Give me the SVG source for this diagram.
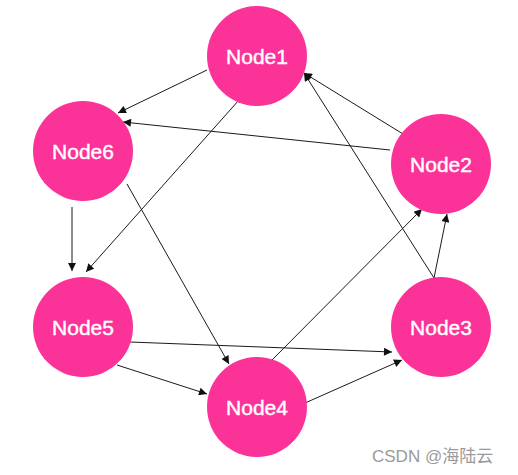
<svg xmlns="http://www.w3.org/2000/svg" width="518" height="475" viewBox="0 0 518 475">
<style>
.node circle{fill:#FB3399;}
.node text{fill:#fff;stroke:#fff;stroke-width:0.4;font-family:"Liberation Sans",Arial,sans-serif;font-size:21px;text-anchor:middle;}
.edges line{stroke:#1a1a1a;stroke-width:1;marker-end:url(#arr);}
.wm{fill:#9a9a9a;font-family:"Liberation Sans","Noto Sans CJK SC",sans-serif;font-size:17px;}
</style>
<defs>
<marker id="arr" viewBox="0 0 10 10" refX="10" refY="5" markerWidth="9" markerHeight="8" markerUnits="userSpaceOnUse" orient="auto">
<path d="M0,0 L10,5 L0,10 Z" fill="#111"/>
</marker>
</defs>
<rect width="518" height="475" fill="#fff"/>
<g class="edges">
<line x1="207" y1="70" x2="118" y2="113"/>
<line x1="239" y1="100" x2="86" y2="272"/>
<line x1="390" y1="150" x2="123" y2="122"/>
<line x1="403" y1="134" x2="304" y2="73"/>
<line x1="434" y1="278" x2="304" y2="73"/>
<line x1="72" y1="207" x2="72" y2="271"/>
<line x1="127" y1="184" x2="229" y2="364"/>
<line x1="130" y1="342" x2="392" y2="352"/>
<line x1="117" y1="365" x2="207" y2="394"/>
<line x1="272" y1="360" x2="422" y2="209"/>
<line x1="305" y1="403" x2="402" y2="360"/>
<line x1="434" y1="278" x2="447" y2="214"/>
</g>
<g id="node1" class="node"><circle cx="257" cy="56" r="50"/><text x="257" y="63.5">Node1</text></g>
<g id="node2" class="node"><circle cx="441" cy="164" r="50"/><text x="441" y="171.5">Node2</text></g>
<g id="node3" class="node"><circle cx="441" cy="327" r="50"/><text x="441" y="334.5">Node3</text></g>
<g id="node4" class="node"><circle cx="257" cy="407" r="50"/><text x="257" y="414.5">Node4</text></g>
<g id="node5" class="node"><circle cx="83" cy="327" r="50"/><text x="83" y="334.5">Node5</text></g>
<g id="node6" class="node"><circle cx="83" cy="151" r="50"/><text x="83" y="158.5">Node6</text></g>
<text class="wm" x="372" y="462">CSDN @海陆云</text>
</svg>
